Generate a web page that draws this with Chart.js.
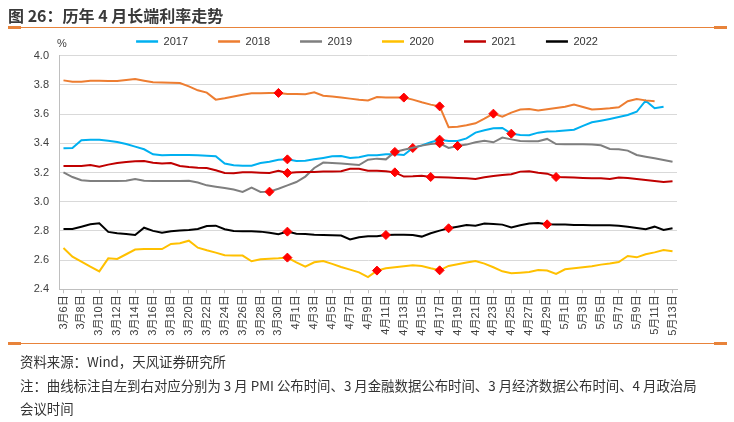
<!DOCTYPE html>
<html><head><meta charset="utf-8">
<script src="https://cdn.jsdelivr.net/npm/chart.js@4.4.1/dist/chart.umd.min.js"></script>
<style>
html,body{margin:0;padding:0;background:#fff;}
body{width:734px;height:422px;position:relative;overflow:hidden;font-family:"Liberation Sans","Noto Sans CJK SC",sans-serif;}
#title{position:absolute;left:8px;top:5px;font-size:16px;font-weight:bold;color:#3a3a3a;font-family:"Noto Sans CJK SC",sans-serif;line-height:20px;white-space:nowrap;}
.rule{position:absolute;left:8px;width:719px;height:1px;background:#E8833A;}
.cap{position:absolute;width:13px;height:3px;background:#E8833A;}
#chartbox{position:absolute;left:0;top:0;width:734px;height:422px;}
.note{position:absolute;left:20px;font-size:13.4px;color:#333;font-family:"Noto Sans CJK SC",sans-serif;white-space:nowrap;line-height:16px;}
#pct{position:absolute;left:57px;top:37px;font-size:11px;color:#404040;line-height:13px;}
</style></head>
<body>
<div id="chartbox"><canvas id="c" width="734" height="422"></canvas></div>
<div id="title">图 26：历年 4 月长端利率走势</div>
<div class="rule" style="top:27px"></div>
<div class="cap" style="left:8px;top:26px"></div>
<div class="cap" style="left:714px;top:26px"></div>
<div id="pct">%</div>
<div class="rule" style="top:343px"></div>
<div class="cap" style="left:8px;top:342px"></div>
<div class="cap" style="left:714px;top:342px"></div>
<div class="note" style="top:353px">资料来源：Wind，天风证券研究所</div>
<div class="note" style="top:377px">注：曲线标注自左到右对应分别为 3 月 PMI 公布时间、3 月金融数据公布时间、3 月经济数据公布时间、4 月政治局</div>
<div class="note" style="top:400px">会议时间</div>
<script>
const labels = ['3月6日','3月7日','3月8日','3月9日','3月10日','3月11日','3月12日','3月13日','3月14日','3月15日',
'3月16日','3月17日','3月18日','3月19日','3月20日','3月21日','3月22日','3月23日','3月24日','3月25日',
'3月26日','3月27日','3月28日','3月29日','3月30日','3月31日','4月1日','4月2日','4月3日','4月4日',
'4月5日','4月6日','4月7日','4月8日','4月9日','4月10日','4月11日','4月12日','4月13日','4月14日',
'4月15日','4月16日','4月17日','4月18日','4月19日','4月20日','4月21日','4月22日','4月23日','4月24日',
'4月25日','4月26日','4月27日','4月28日','4月29日','4月30日','5月1日','5月2日','5月3日','5月4日',
'5月5日','5月6日','5月7日','5月8日','5月9日','5月10日','5月11日','5月12日','5月13日'];

const seriesNames = ['2017','2018','2019','2020','2021','2022'];

const y2017 = [3.366,3.368,3.421,3.425,3.425,3.418,3.409,3.395,3.377,3.359,
3.325,3.318,3.320,3.320,3.320,3.318,3.314,3.311,3.261,3.249,
3.247,3.247,3.265,3.274,3.288,3.290,3.279,3.281,3.290,3.300,
3.311,3.313,3.300,3.304,3.318,3.318,3.325,3.325,3.320,3.368,
3.386,3.407,3.425,3.416,3.416,3.434,3.473,3.489,3.503,3.505,
3.466,3.457,3.455,3.473,3.480,3.482,3.487,3.493,3.519,3.544,
3.555,3.567,3.580,3.594,3.616,3.692,3.640,3.651,null];

const y2018 = [3.831,3.822,3.822,3.829,3.828,3.827,3.827,3.834,3.841,3.829,
3.818,3.816,3.815,3.813,3.790,3.763,3.747,3.699,3.708,3.720,
3.733,3.742,3.742,3.745,3.745,3.738,3.737,3.736,3.749,3.726,
3.720,3.713,3.706,3.699,3.694,3.717,3.713,3.713,3.713,3.699,
3.681,3.665,3.653,3.510,3.514,3.523,3.537,3.569,3.603,3.583,
3.610,3.631,3.635,3.624,3.633,3.642,3.651,3.665,3.649,3.631,
3.635,3.640,3.647,3.688,3.704,3.694,3.688,null,null];

const y2019 = [3.201,3.169,3.147,3.142,3.142,3.142,3.142,3.144,3.156,3.144,
3.142,3.142,3.142,3.142,3.144,3.131,3.112,3.103,3.094,3.083,
3.067,3.096,3.067,3.069,3.089,3.112,3.135,3.172,3.231,3.268,
3.265,3.261,3.256,3.251,3.288,3.295,3.290,3.341,3.356,3.370,
3.384,3.395,3.400,3.368,3.382,3.391,3.407,3.418,3.407,3.439,
3.427,3.416,3.414,3.414,3.430,3.395,3.393,3.393,3.393,3.391,
3.386,3.361,3.359,3.350,3.320,3.308,3.297,3.286,3.274];

const y2020 = [2.683,2.624,2.590,2.555,2.523,2.612,2.608,2.640,2.672,2.676,
2.676,2.676,2.711,2.715,2.733,2.685,2.667,2.651,2.633,2.631,
2.631,2.592,2.606,2.610,2.612,2.617,2.585,2.555,2.585,2.594,
2.574,2.553,2.535,2.516,2.484,2.528,2.544,2.551,2.558,2.564,
2.560,2.544,2.530,2.560,2.571,2.583,2.594,2.576,2.551,2.523,
2.510,2.514,2.519,2.532,2.528,2.505,2.537,2.544,2.551,2.558,
2.569,2.576,2.587,2.628,2.619,2.640,2.653,2.669,2.660];

const y2021 = [3.245,3.245,3.245,3.252,3.240,3.254,3.265,3.272,3.277,3.279,
3.267,3.261,3.265,3.245,3.238,3.233,3.231,3.215,3.197,3.195,
3.201,3.201,3.199,3.197,3.211,3.197,3.201,3.204,3.204,3.206,
3.206,3.208,3.226,3.226,3.212,3.212,3.208,3.201,3.172,3.174,
3.178,3.169,3.167,3.165,3.162,3.160,3.156,3.167,3.176,3.183,
3.188,3.206,3.208,3.199,3.192,3.169,3.167,3.165,3.162,3.160,
3.160,3.156,3.165,3.162,3.156,3.149,3.142,3.135,3.140];

const y2022 = [2.813,2.813,2.829,2.845,2.852,2.793,2.784,2.779,2.772,2.822,
2.800,2.788,2.797,2.802,2.806,2.813,2.834,2.836,2.811,2.800,
2.797,2.797,2.795,2.788,2.777,2.795,2.781,2.779,2.774,2.772,
2.770,2.768,2.742,2.756,2.763,2.763,2.772,2.774,2.774,2.772,
2.761,2.784,2.802,2.818,2.829,2.841,2.836,2.850,2.847,2.843,
2.824,2.838,2.850,2.854,2.845,2.843,2.843,2.841,2.841,2.838,
2.838,2.838,2.836,2.829,2.820,2.811,2.829,2.806,2.818];

// event dates marked on each curve (3月PMI, 3月金融数据, 3月经济数据, 4月政治局会议)
const events2017 = ['3月31日','4月14日','4月17日','4月25日'];
const events2018 = ['3月30日','4月13日','4月17日','4月23日'];
const events2019 = ['3月29日','4月12日','4月17日','4月19日'];
const events2020 = ['3月31日','4月10日','4月17日'];
const events2021 = ['3月31日','4月12日','4月16日','4月30日'];
const events2022 = ['3月31日','4月11日','4月18日','4月29日'];

const seriesValues = [y2017,y2018,y2019,y2020,y2021,y2022];
const seriesEvents = [events2017,events2018,events2019,events2020,events2021,events2022];
const seriesColors = ['#00B0F0','#ED7D31','#7F7F7F','#FFC000','#C00000','#000000'];

const FONT = '"Liberation Sans", "Noto Sans CJK SC", sans-serif';
const X_H = 50;

const datasets = seriesNames.map((name, k) => {
  const evIdx = seriesEvents[k].map(d => labels.indexOf(d));
  return {
    label: name,
    data: seriesValues[k],
    borderColor: seriesColors[k],
    backgroundColor: seriesColors[k],
    borderWidth: 2,
    tension: 0,
    fill: false,
    spanGaps: false,
    order: 6 - k,
    pointStyle: 'rectRot',
    pointRadius: ctx => evIdx.includes(ctx.dataIndex) ? 4.5 : 0,
    pointHoverRadius: 0,
    pointBackgroundColor: '#FF0000',
    pointBorderColor: '#FF0000',
    pointBorderWidth: 1
  };
});

new Chart(document.getElementById('c'), {
  type: 'line',
  data: { labels: labels, datasets: datasets },
  options: {
    responsive: false,
    animation: false,
    events: [],
    layout: { padding: { left: 0, right: 0, top: 6, bottom: 422 - 289.3 - X_H } },
    plugins: {
      tooltip: { enabled: false },
      legend: {
        display: true,
        position: 'top',
        align: 'center',
        maxHeight: 49.7,
        labels: {
          usePointStyle: true,
          pointStyle: 'line',
          pointStyleWidth: 22,
          padding: 30,
          color: '#333333',
          font: { size: 11, family: FONT },
          generateLabels: chart => chart.data.datasets.map((ds, i) => ({
            text: ds.label,
            fillStyle: ds.borderColor,
            strokeStyle: ds.borderColor,
            lineWidth: 2.5,
            pointStyle: 'line',
            hidden: false,
            datasetIndex: i,
            fontColor: '#333333'
          }))
        }
      }
    },
    scales: {
      x: {
        type: 'category',
        offset: true,
        grid: { display: true, drawOnChartArea: false, drawTicks: true, tickLength: 4, color: '#BFBFBF' },
        border: { display: true, color: '#BFBFBF' },
        ticks: {
          autoSkip: false, maxRotation: 90, minRotation: 90, padding: 2,
          color: '#404040', font: { size: 11, family: FONT },
          callback: (v, i) => (i % 2 === 0 ? labels[i] : null)
        },
        afterFit: s => { s.height = X_H; }
      },
      y: {
        min: 2.4, max: 4.0,
        grid: { color: '#D9D9D9', drawTicks: false },
        border: { display: true, color: '#BFBFBF' },
        ticks: { stepSize: 0.2, padding: 10, color: '#404040', font: { size: 11, family: FONT },
          callback: v => Number(v).toFixed(1) },
        afterFit: s => { s.width = 59; }
      },
      yR: {
        position: 'right', display: true,
        grid: { display: false }, border: { display: false }, ticks: { display: false },
        afterFit: s => { s.width = 57; }
      }
    }
  }
});
</script>
</body></html>
